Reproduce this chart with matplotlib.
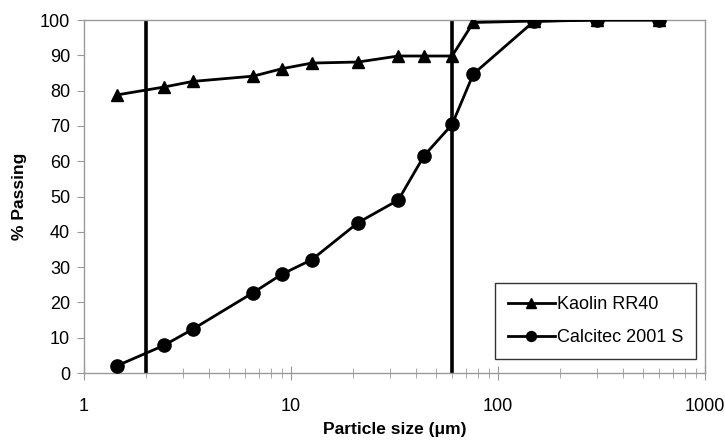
import matplotlib
matplotlib.use("Agg")
import matplotlib.pyplot as plt
from matplotlib.ticker import LogLocator, FixedLocator, NullFormatter, FixedFormatter

plt.rcParams['font.family'] = ['Liberation Sans', 'DejaVu Sans']

sizes = [1.45, 2.43, 3.35, 6.58, 9.05, 12.6, 21.1, 33, 44, 60, 76, 149, 300, 600]
kaolin = [78.8, 81.0, 82.6, 84.1, 86.2, 87.8, 88.1, 89.8, 89.8, 89.8, 99.3, 99.7, 100, 100]
calcitec = [2.1, 7.8, 12.4, 22.8, 28.0, 32.1, 42.6, 49.0, 61.6, 70.4, 84.7, 99.6, 100, 100]
cut_lines = [2, 60]
series_names = ["Kaolin RR40", "Calcitec 2001 S"]

fig = plt.figure(figsize=(7.25, 4.44), dpi=100)
ax = fig.add_axes([84/725, 1 - 373/444, (705-84)/725, (373-20)/444])

for xv in cut_lines:
    ax.axvline(xv, color='black', lw=2.6, zorder=2)

ax.plot(sizes, kaolin, color='black', lw=2.0, marker='^', markersize=9, label=series_names[0], zorder=3)
ax.plot(sizes, calcitec, color='black', lw=2.0, marker='o', markersize=9.5, label=series_names[1], zorder=3)

ax.set_xscale('log')
ax.set_xlim(1, 1000)
ax.set_ylim(0, 100)
ax.set_yticks(range(0, 101, 10))
ax.xaxis.set_major_locator(FixedLocator([1, 10, 100, 1000]))
ax.xaxis.set_major_formatter(FixedFormatter(['1', '10', '100', '1000']))
ax.xaxis.set_minor_locator(LogLocator(base=10, subs=range(2, 10)))
ax.xaxis.set_minor_formatter(NullFormatter())

for s in ax.spines.values():
    s.set_color('#999999')
    s.set_linewidth(1.0)

ax.tick_params(axis='y', which='major', direction='out', length=5, color='#999999', labelsize=13, pad=5)
ax.tick_params(axis='x', which='major', direction='inout', length=10, color='#999999', labelsize=13, pad=13)
ax.tick_params(axis='x', which='minor', direction='inout', length=7, color='#999999')

ax.set_xlabel('Particle size (μm)', fontsize=12.5, fontweight='bold', labelpad=5)
ax.set_ylabel('% Passing', fontsize=12.5, fontweight='bold', labelpad=9)

leg = ax.legend(loc='lower right', bbox_to_anchor=(0.985, 0.04), fontsize=13, frameon=True,
                fancybox=False, edgecolor='black', handlelength=2.6, handletextpad=0.1,
                borderpad=0.7, labelspacing=0.9, borderaxespad=0, markerscale=0.75)
leg.get_frame().set_linewidth(1.0)

fig.savefig('out.png', dpi=100)
